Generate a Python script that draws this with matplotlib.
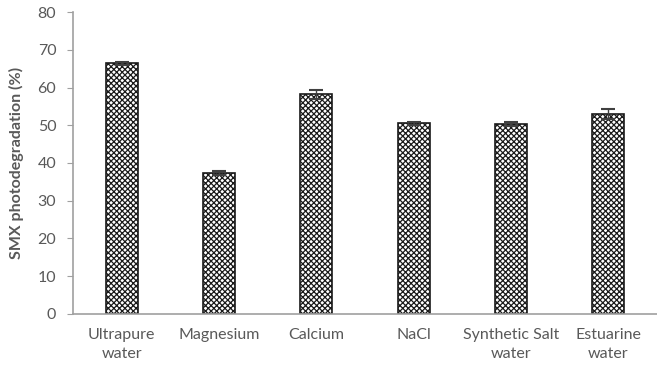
import numpy as np
import matplotlib.pyplot as plt

plt.rcParams['font.family'] = ['Lato', 'DejaVu Sans']
plt.rcParams['hatch.color'] = '#4a4a4a'
plt.rcParams['hatch.linewidth'] = 0.9

categories = ['Ultrapure\nwater', 'Magnesium', 'Calcium', 'NaCl',
              'Synthetic Salt\nwater', 'Estuarine\nwater']
values = [66.4, 37.4, 58.2, 50.5, 50.3, 53.0]
errors = [0.4, 0.5, 1.2, 0.4, 0.5, 1.4]

fig = plt.figure(figsize=[6.57, 3.65], dpi=100)
ax = fig.add_axes([0.111, 0.140, 0.889, 0.827])

x = np.arange(len(categories))
ax.bar(x, values, width=0.33, color='white', edgecolor='#1a1a1a',
       linewidth=1.2, hatch='xxxxxx', zorder=2)
ax.errorbar(x, values, yerr=errors, fmt='none', ecolor='#404040',
            elinewidth=1.0, capsize=5, capthick=1.5, zorder=3)

ax.set_xlim(-0.5, len(categories) - 0.5)
ax.set_ylim(0, 80)
ax.set_yticks(np.arange(0, 81, 10))
ax.set_xticks(x)
ax.set_xticklabels(categories, fontsize=11.5, color='#595959', linespacing=1.45)
ax.tick_params(axis='y', labelsize=11.5, labelcolor='#595959', color='#a0a0a0',
               length=4, pad=8)
ax.tick_params(axis='x', length=0, pad=10)
for s in ['top', 'right']:
    ax.spines[s].set_visible(False)
for s in ['left', 'bottom']:
    ax.spines[s].set_color('#a0a0a0')
    ax.spines[s].set_linewidth(1.2)
ax.set_ylabel('SMX photodegradation (%)', fontsize=11.5, fontweight='bold',
              color='#595959', labelpad=10)

fig.savefig('out.png', dpi=100)
